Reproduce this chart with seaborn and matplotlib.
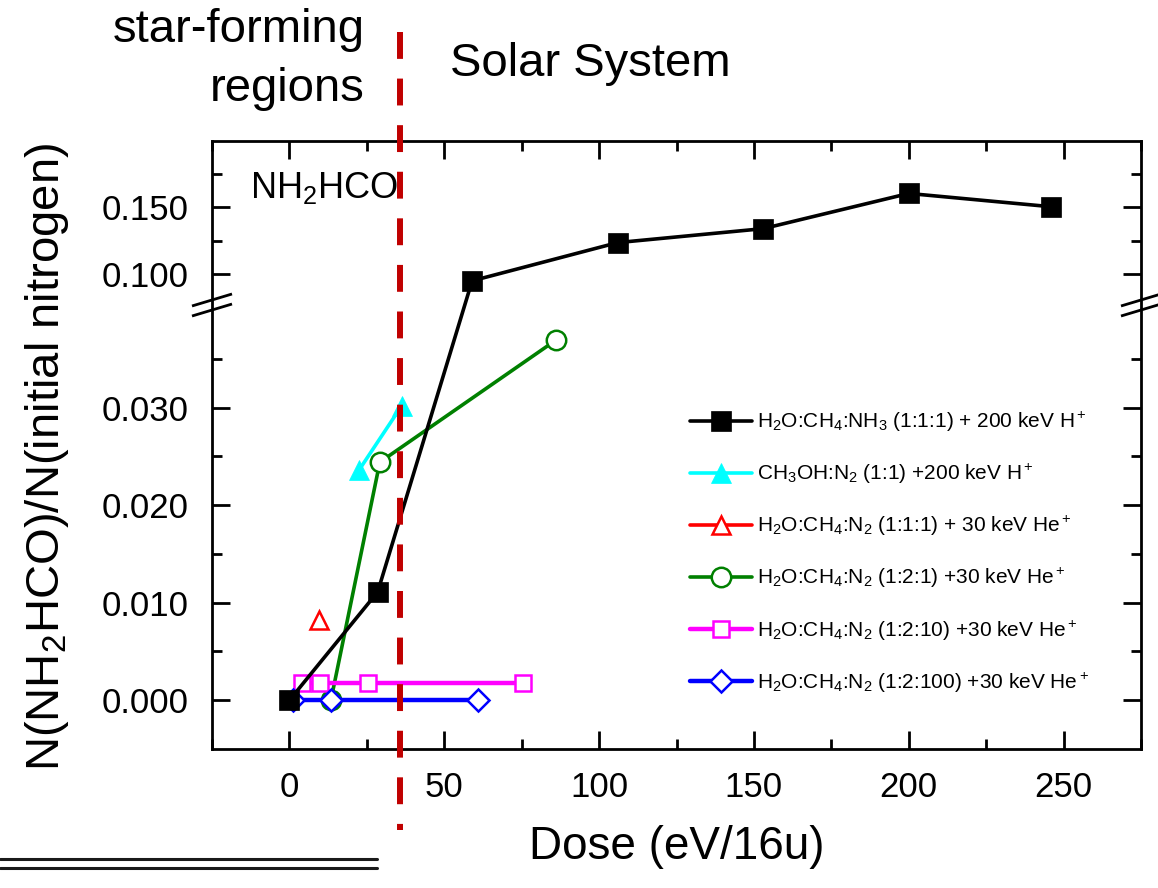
import numpy as np
import matplotlib
matplotlib.use("Agg")
import matplotlib.pyplot as plt
from matplotlib.lines import Line2D
from matplotlib.ticker import FixedLocator, FormatStrFormatter, MultipleLocator
import seaborn as sns

# Dose (eV/16u) and N(NH2HCO)/N(initial nitrogen) for each irradiated ice mixture
nh3_dose = [0, 28.5, 59, 106, 153, 200, 246]
nh3_ratio = [0.000, 0.0111, 0.0947, 0.1235, 0.1340, 0.1605, 0.1505]

ch3oh_dose = [22.5, 36.3]
ch3oh_ratio = [0.0236, 0.0302]

n2_111_dose = [9.5]
n2_111_ratio = [0.0082]

n2_121_dose = [13.4, 29.2, 86]
n2_121_ratio = [0.0, 0.0244, 0.0369]

n2_1210_dose = [4.2, 9.8, 25.3, 75.3]
n2_1210_ratio = [0.0018, 0.0018, 0.0018, 0.0018]

n2_12100_dose = [1.1, 13.4, 60.8]
n2_12100_ratio = [0.0, 0.0, 0.0]

series_labels = [
    r'H$_2$O:CH$_4$:NH$_3$ (1:1:1) + 200 keV H$^+$',
    r'CH$_3$OH:N$_2$ (1:1) +200 keV H$^+$',
    r'H$_2$O:CH$_4$:N$_2$ (1:1:1) + 30 keV He$^+$',
    r'H$_2$O:CH$_4$:N$_2$ (1:2:1) +30 keV He$^+$',
    r'H$_2$O:CH$_4$:N$_2$ (1:2:10) +30 keV He$^+$',
    r'H$_2$O:CH$_4$:N$_2$ (1:2:100) +30 keV He$^+$',
]

boundary_dose = 35.6  # star-forming regions | Solar System

x_major = [0, 50, 100, 150, 200, 250]
y_major = [0.000, 0.010, 0.020, 0.030, 0.100, 0.150]
y_minor = [0.005, 0.015, 0.025, 0.035, 0.125, 0.175]

sns.set_theme(style="white")
plt.rcParams["font.family"] = ["Liberation Sans", "DejaVu Sans"]
plt.rcParams.update({
    "mathtext.fontset": "custom",
    "mathtext.rm": "Liberation Sans",
    "mathtext.it": "Liberation Sans:italic",
    "mathtext.bf": "Liberation Sans:bold",
    "mathtext.default": "regular",
    "text.color": "black",
    "axes.labelcolor": "black",
    "xtick.color": "black",
    "ytick.color": "black",
})

fig = plt.figure(figsize=(11.58, 8.88), dpi=100)
ax = fig.add_axes([212 / 1158, 139 / 888, 929 / 1158, 608 / 888])

# Broken y axis: a piecewise-linear scale that squeezes 0.040-0.075 into a thin gap
_y_nodes = np.array([-1.0, -0.005, 0.040, 0.075, 0.200, 1.0])
_p_nodes = np.array([-9706.8, 0.0, 439.0, 442.0, 608.0, 1670.4])


def _fwd(v):
    return np.interp(np.asarray(v, dtype=float), _y_nodes, _p_nodes)


def _inv(v):
    return np.interp(np.asarray(v, dtype=float), _p_nodes, _y_nodes)


styles = [
    dict(color="black", marker="s", markersize=14, markerfacecolor="black",
         markeredgecolor="black", markeredgewidth=0.5, linewidth=2.6, zorder=7),
    dict(color="#00FFFF", marker="^", markersize=15, markerfacecolor="#00FFFF",
         markeredgecolor="#00FFFF", markeredgewidth=0.5, linewidth=2.6, zorder=4),
    dict(color="#FF0000", marker="^", markersize=13.5, markerfacecolor="white",
         markeredgecolor="#FF0000", markeredgewidth=1.8, linewidth=2.6, zorder=4),
    dict(color="#008000", marker="o", markersize=14, markerfacecolor="white",
         markeredgecolor="#008000", markeredgewidth=1.8, linewidth=2.6, zorder=3),
    dict(color="#FF00FF", marker="s", markersize=11.5, markerfacecolor="white",
         markeredgecolor="#FF00FF", markeredgewidth=1.8, linewidth=3.2, zorder=5),
    dict(color="#0000FF", marker="D", markersize=11.5, markerfacecolor="white",
         markeredgecolor="#0000FF", markeredgewidth=1.8, linewidth=3.2, zorder=6),
]
data = [
    (nh3_dose, nh3_ratio), (ch3oh_dose, ch3oh_ratio), (n2_111_dose, n2_111_ratio),
    (n2_121_dose, n2_121_ratio), (n2_1210_dose, n2_1210_ratio),
    (n2_12100_dose, n2_12100_ratio),
]

for (xs, ys), lab, st in zip(data, series_labels, styles):
    sns.lineplot(x=xs, y=ys, ax=ax, label=lab, sort=False, errorbar=None,
                 legend=False, **st)

ax.set_yscale("function", functions=(_fwd, _inv))
ax.set_xlim(-25, 275)
ax.set_ylim(-0.005, 0.200)

ax.xaxis.set_major_locator(FixedLocator(x_major))
ax.xaxis.set_minor_locator(MultipleLocator(25))
ax.yaxis.set_major_locator(FixedLocator(y_major))
ax.yaxis.set_minor_locator(FixedLocator(y_minor))
ax.yaxis.set_major_formatter(FormatStrFormatter("%.3f"))

ax.tick_params(which="both", direction="in", top=True, right=True,
               bottom=True, left=True, width=2, labelsize=25)
ax.tick_params(which="major", length=13)
ax.tick_params(which="minor", length=7.5)
ax.tick_params(axis="y", pad=17)
ax.tick_params(axis="x", pad=16)
for s in ax.spines.values():
    s.set_linewidth(2)
    s.set_color("black")

ax.set_xlabel("Dose (eV/16u)", fontsize=33)
ax.set_ylabel(r"N(NH$_2$HCO)/N(initial nitrogen)", fontsize=34)
ax.xaxis.set_label_coords(0.5, -0.125)
ax.yaxis.set_label_coords(-0.152, 0.48)

# Break marks on both vertical spines
for xs_ in (0.0, 1.0):
    for yc in (0.7385, 0.722):
        ax.plot([xs_ - 20 / 929, xs_ + 20 / 929], [yc - 6 / 608, yc + 6 / 608],
                transform=ax.transAxes, color="black", lw=2, clip_on=False,
                solid_capstyle="butt", zorder=12)

ax.text(0.041, 0.906, r"NH$_2$HCO", transform=ax.transAxes, fontsize=26,
        va="baseline", ha="left")

leg = ax.legend(loc="upper left", bbox_to_anchor=(0.5145, 0.557), frameon=False,
                fontsize=15, handlelength=3.0, handletextpad=0.2,
                labelspacing=1.34, borderaxespad=0, borderpad=0)

# Dashed boundary between star-forming regions and the Solar System
ax.plot([boundary_dose, boundary_dose], [(749 - 32) / 608, (749 - 830) / 608],
        transform=ax.get_xaxis_transform(), color="#C00000", lw=4.3,
        dashes=(4.5, 3.3), clip_on=False, zorder=20)

fig.text(365 / 1158, 1 - 8 / 888, "star-forming\nregions", ha="right", va="top",
         fontsize=34, linespacing=1.45)
fig.text(450 / 1158, 1 - 76 / 888, "Solar System", ha="left", va="baseline",
         fontsize=34)

for yy in (859, 868):
    fig.add_artist(Line2D([0, 377 / 1158], [1 - yy / 888, 1 - yy / 888],
                          transform=fig.transFigure, color="#1a1a1a", lw=2.2))

fig.savefig("out.png", dpi=100)
